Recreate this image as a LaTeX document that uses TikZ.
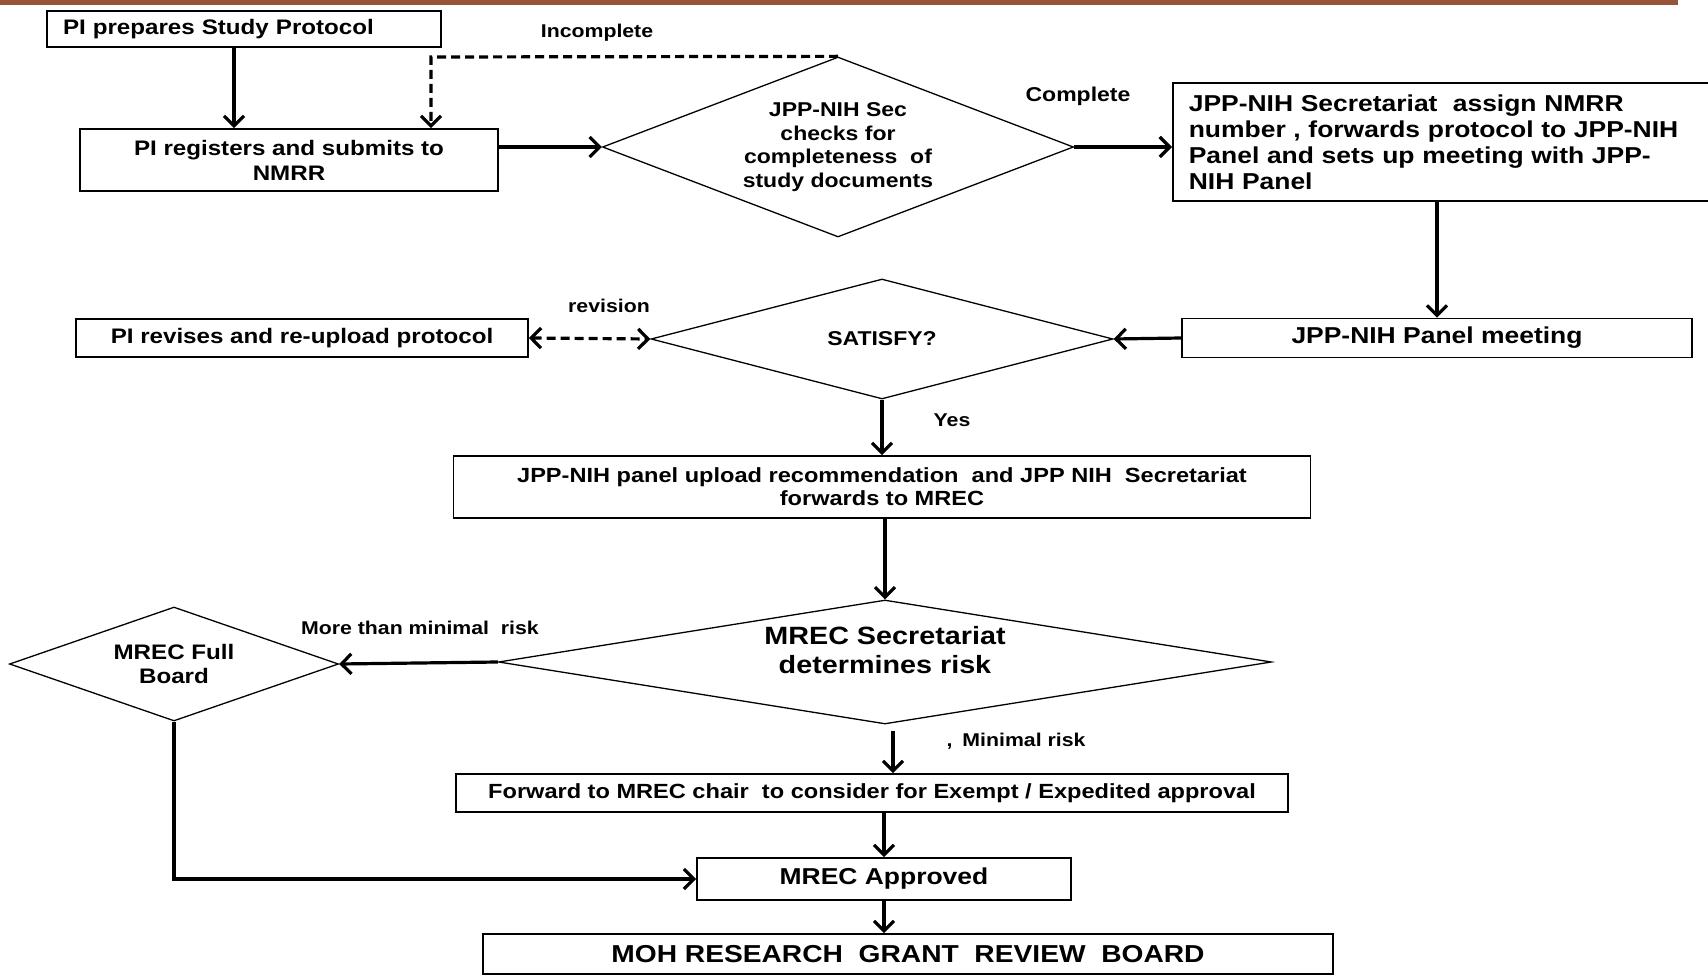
\documentclass[tikz,border=0pt]{standalone}
\usepackage{fontspec}
\setmainfont{Liberation Sans}[FakeStretch=1.15]
\usetikzlibrary{shapes.geometric, arrows.meta}
\definecolor{scanedge}{RGB}{150,85,55}
\tikzstyle{process} = [rectangle, draw=black, line width=1.6pt, align=center, inner sep=2pt, font=\bfseries\fontsize{21}{25}\selectfont]
\tikzstyle{decision} = [diamond, draw=black, line width=1.3pt, align=center, inner sep=0pt, font=\bfseries\fontsize{20}{23.6}\selectfont]
\tikzstyle{edgetext} = [font=\bfseries\fontsize{18.5}{22}\selectfont]
\tikzstyle{arrow} = [line width=3.2pt,->,>={Straight Barb[length=10pt,width=20pt]}]
\tikzstyle{dasharrow} = [arrow, dash pattern=on 9pt off 5pt]

\begin{document}
\begin{tikzpicture}[x=1pt, y=-1pt]
    \useasboundingbox (0,0) rectangle (1708,976);
    \fill [scanedge] (0,0) rectangle (1678,5);

    \node (prep) [process, align=left, text width=362pt, inner xsep=16pt, minimum height=36pt] at (244,29) {PI prepares Study Protocol};
    \node (reg) [process, minimum width=418pt, minimum height=62pt] at (289,160) {PI registers and submits to\\NMRR};
    \node (check) [decision, shape aspect=2.617, minimum width=471pt, minimum height=180pt] at (838,147) {JPP-NIH Sec\\checks for\\completeness\ \ of\\study documents};
    \node (secr) [process, anchor=north west, align=left, text width=505pt, inner xsep=16pt, minimum height=118pt, font=\bfseries\fontsize{23}{26}\selectfont] at (1172,82) {JPP-NIH Secretariat\ \ assign NMRR\\number , forwards protocol to JPP-NIH\\Panel and sets up meeting with JPP-\\NIH Panel};
    \node (panel) [process, minimum width=510pt, minimum height=39pt, font=\bfseries\fontsize{23}{26}\selectfont] at (1437,338) {JPP-NIH Panel meeting};
    \node (satisfy) [decision, shape aspect=3.85, minimum width=462pt, minimum height=120pt] at (882,339) {SATISFY?};
    \node (revise) [process, minimum width=452pt, minimum height=38pt] at (302,338) {PI revises and re-upload protocol};
    \node (recom) [process, minimum width=857pt, minimum height=62pt, font=\bfseries\fontsize{20.5}{23}\selectfont] at (882,487) {JPP-NIH panel upload recommendation\ \ and JPP NIH\ \ Secretariat\\forwards to MREC};
    \node (risk) [decision, shape aspect=6.23, minimum width=773pt, minimum height=124pt, font=\bfseries\fontsize{25}{29}\selectfont] at (885,662) {MREC Secretariat\\determines risk\\[-5pt]{}};
    \node (board) [decision, shape aspect=2.886, minimum width=329pt, minimum height=114pt, font=\bfseries\fontsize{21}{24}\selectfont] at (174,664) {MREC Full\\Board};
    \node (forward) [process, minimum width=832pt, minimum height=38pt, font=\bfseries\fontsize{20.5}{24}\selectfont] at (872,793) {Forward to MREC chair\ \ to consider for Exempt / Expedited approval};
    \node (approved) [process, minimum width=374pt, minimum height=42pt, font=\bfseries\fontsize{23}{26}\selectfont] at (884,879) {MREC Approved};
    \node (moh) [process, minimum width=850pt, minimum height=40pt, font=\bfseries\fontsize{24.5}{28}\selectfont] at (908,954) {MOH RESEARCH\ \ GRANT\ \ REVIEW\ \ BOARD};

    \node (incomplete) [edgetext] at (597,33) {Incomplete};
    \node (complete) [edgetext, font=\bfseries\fontsize{20}{23}\selectfont] at (1078,96) {Complete};
    \node (revision) [edgetext] at (609,306) {revision};
    \node (yes) [edgetext] at (952,420) {Yes};
    \node (morerisk) [edgetext] at (420,628) {More than minimal\ \ risk};
    \node (minrisk) [edgetext] at (1016,741) {,\hspace{10pt}Minimal risk};

    \coordinate (back) at (431,57);
    \coordinate (prepout) at ([xshift=-10pt]prep.south);
    \coordinate (riskout) at ([xshift=8pt,yshift=-6pt]risk.south);

    \draw [arrow] (prepout) -- (prepout |- reg.north);
    \draw [dasharrow] (check.north) -- (back) -- (back |- reg.north);
    \draw [arrow] (reg.east |- check.west) -- (check.west);
    \draw [arrow] (check.east) -- (check.east -| secr.west);
    \draw [arrow] (secr.south -| panel.north) -- (panel.north);
    \draw [arrow] (panel.west) -- (satisfy.east);
    \draw [dasharrow, <->] (revise.east) -- (satisfy.west);
    \draw [arrow] (satisfy.south) -- (recom.north);
    \draw [arrow] (recom.south -| risk.north) -- (risk.north);
    \draw [arrow] (risk.west) -- (board.east);
    \draw [arrow] (riskout) -- (riskout |- forward.north);
    \draw [arrow] (forward.south -| approved.north) -- (approved.north);
    \draw [arrow] (board.south) |- (approved.west);
    \draw [arrow] (approved.south) -- (approved.south |- moh.north);
\end{tikzpicture}
\end{document}
